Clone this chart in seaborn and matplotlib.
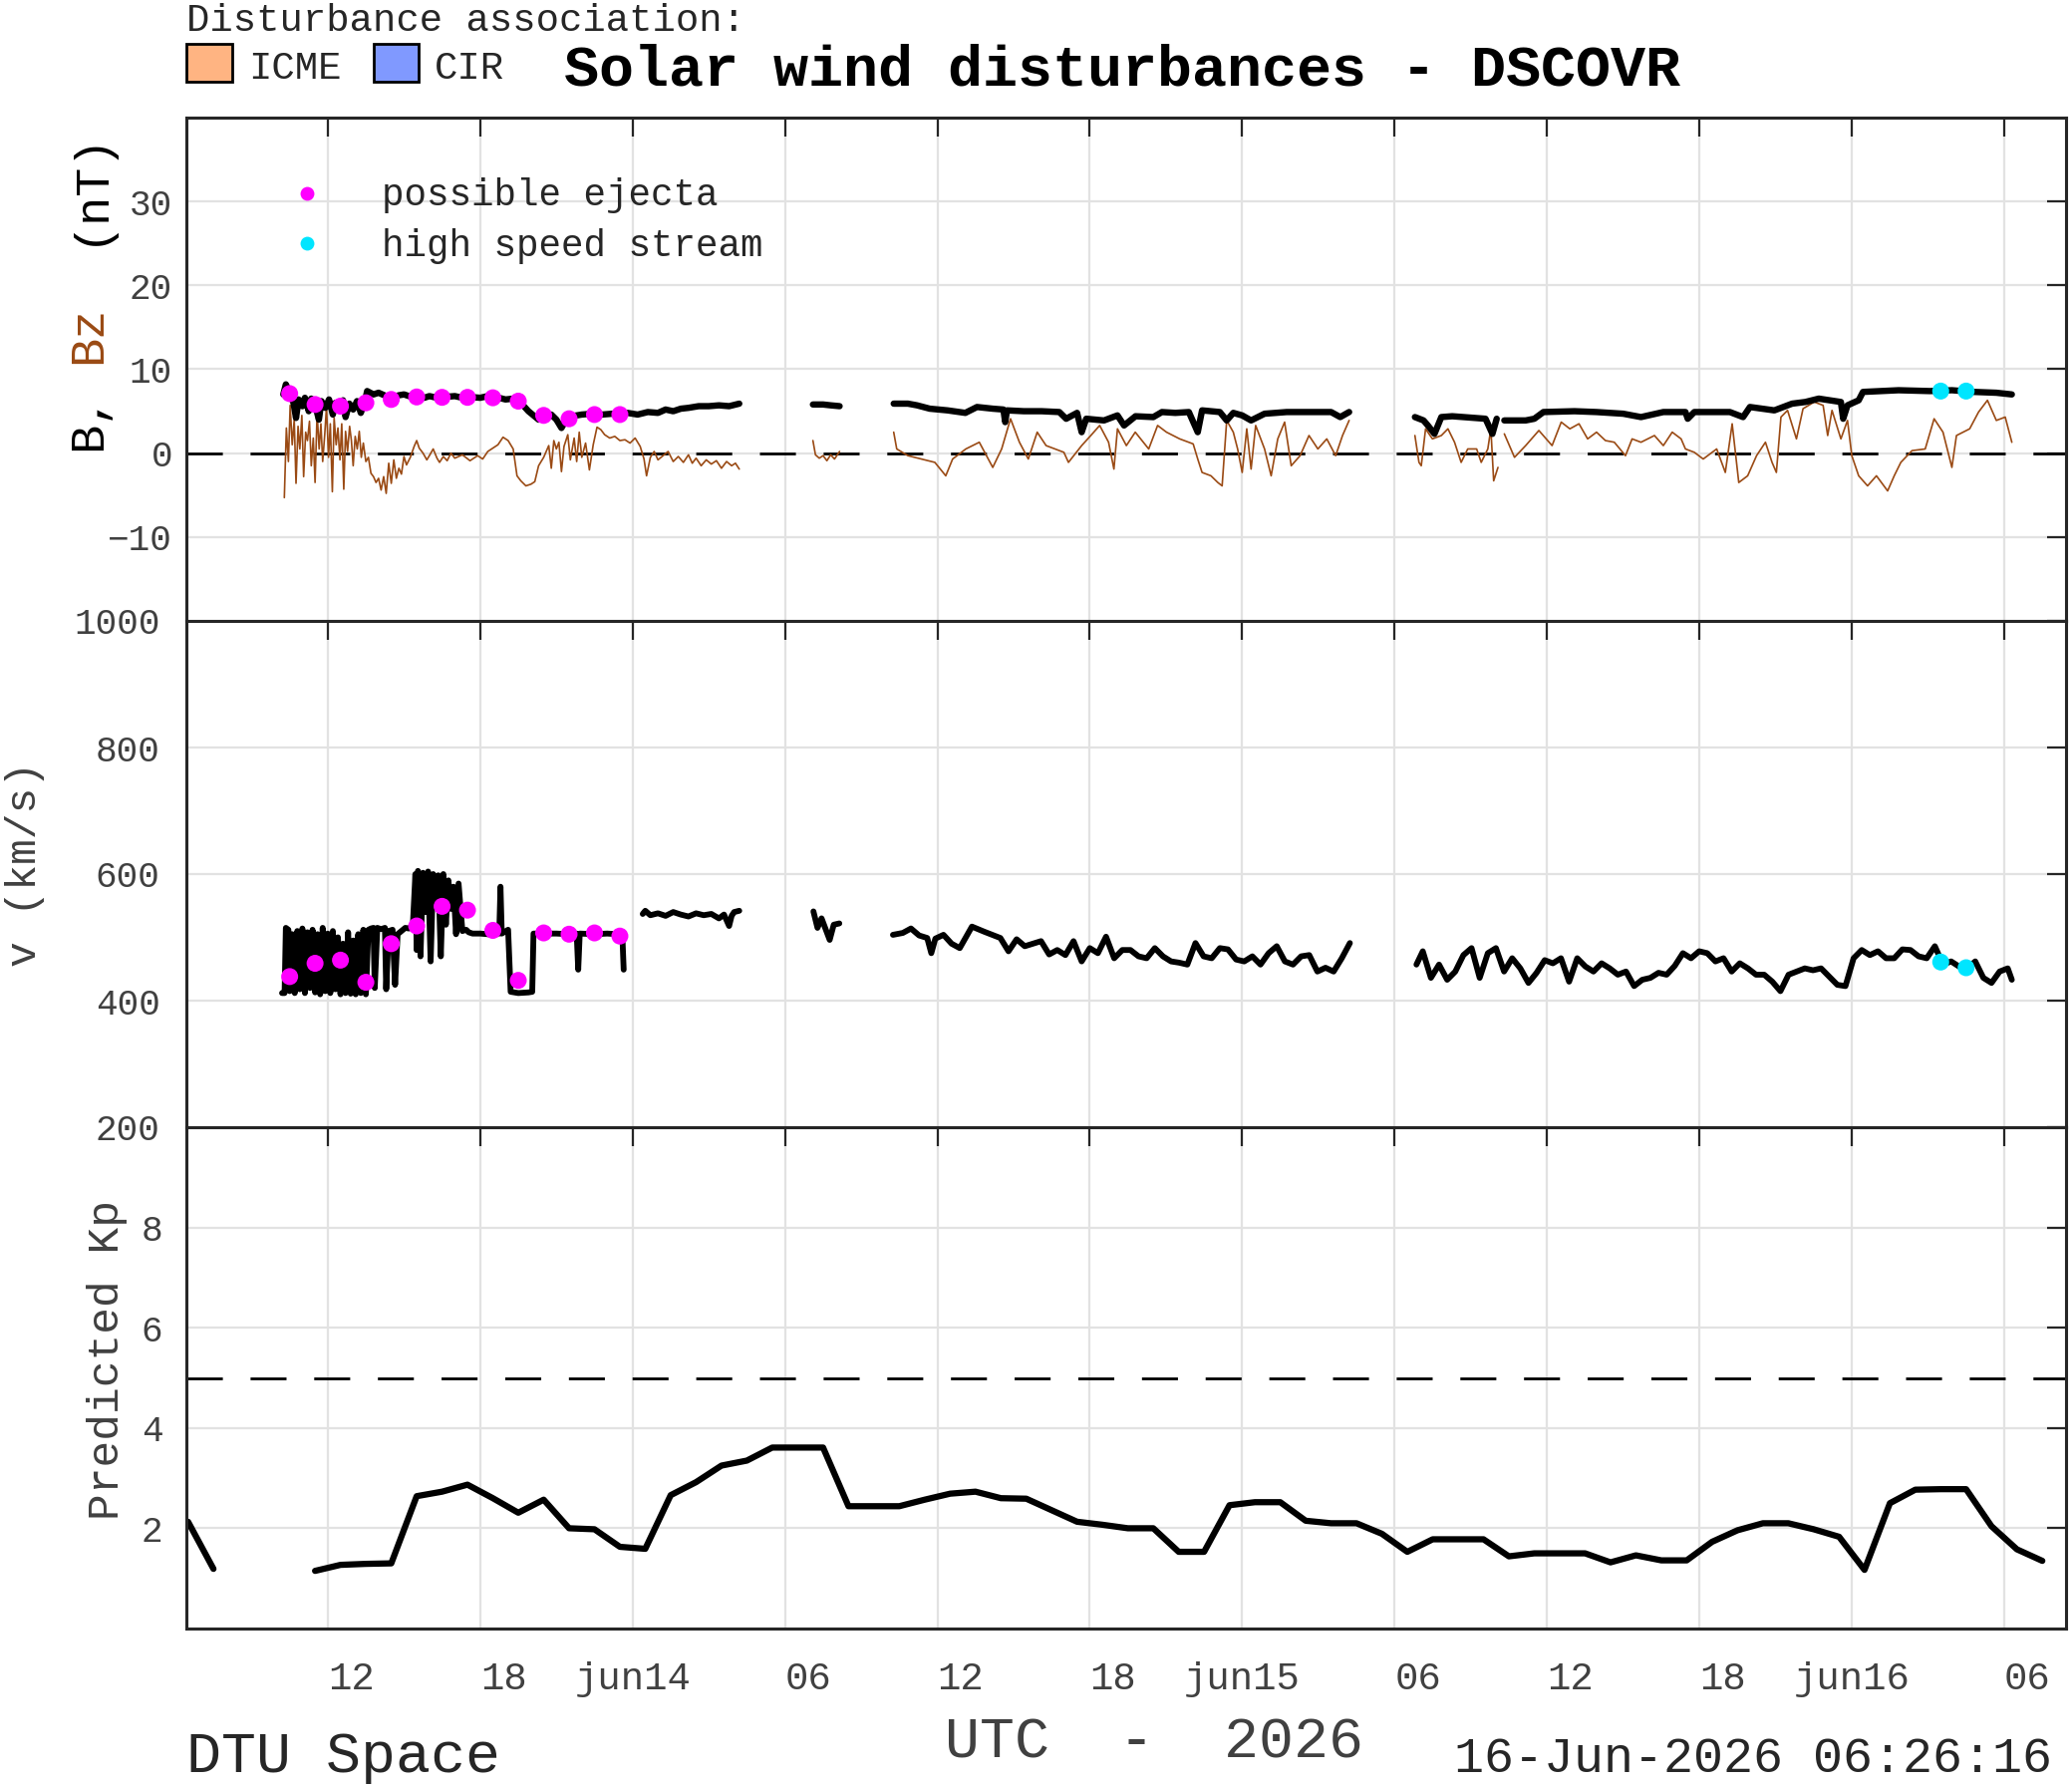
import numpy as np
import pandas as pd
import matplotlib
matplotlib.use("Agg")
import matplotlib.pyplot as plt
import seaborn as sns
from matplotlib.patches import Rectangle

# ---------------- data (time in hours since 13-Jun-2026 00:00 UTC) ----------------
NaN = np.nan

b_time = [10.25, 10.35, 10.5, 10.65, 10.75, 10.85, 11.0, 11.1, 11.25, 11.35, 11.5, 11.65, 11.75, 11.9,
          12.05, 12.2, 12.3, 12.45, 12.6, 12.7, 12.85, 13.0, 13.15, 13.3, 13.45, 13.55, 13.8, 14.0, 14.3,
          14.5, 14.8, 15.0, 15.3, 15.5, 15.8, 16.0, 16.3, 16.6, 17.0, 17.3, 17.6, 18.0, 18.3, 18.6, 19.0,
          19.3, 19.6, 19.9, 20.1, 20.3, 20.5, 20.8, 21.0, 21.2, 21.35, 21.6, 22.0, 22.4, 22.8, 23.2, 23.5,
          23.8, 24.2, 24.6, 25.0, 25.3, 25.6, 25.9, 26.2, 26.6, 27.0, 27.4, 27.8, 28.2,
          29.0,
          31.1, 31.5, 31.8, 32.15,
          33.0,
          34.28, 34.84, 35.2, 35.7, 36.4, 37.1, 37.56, 38.18, 38.6, 38.67, 38.74, 39.4, 40.1, 40.8, 41.07,
          41.5, 41.68, 41.86, 42.56, 43.09, 43.35, 43.8, 44.5, 44.84, 45.37, 45.9, 46.25, 46.42, 47.12,
          47.39, 47.65, 48.0, 48.35, 48.88, 49.75, 50.63, 51.5, 51.86, 52.21,
          53.0,
          54.8, 55.14, 55.31, 55.57, 55.84, 56.27, 56.71, 57.15, 57.58, 57.85, 58.02,
          58.15,
          58.32, 59.16, 59.5, 59.86, 61.08, 61.95, 63.0, 63.7, 64.58, 65.45, 65.54, 65.8, 67.2, 67.72,
          67.99, 68.95, 69.65, 70.17, 70.7, 71.57, 71.66, 71.83, 72.27, 72.44, 73.84, 75.07, 75.94, 76.81,
          77.69, 78.3]
b_val = [7.0, 8.2, 7.2, 6.0, 4.2, 6.4, 5.6, 6.6, 5.0, 6.5, 5.8, 4.0, 6.2, 5.4,
         6.4, 4.6, 6.0, 5.5, 6.3, 4.3, 5.9, 5.2, 6.2, 4.8, 6.0, 7.4, 7.0, 7.2, 6.8,
         6.6, 6.9, 7.0, 6.7, 6.8, 6.6, 6.8, 6.6, 6.7, 6.8, 6.6, 6.7, 6.6, 6.8, 6.7, 6.4,
         6.5, 6.0, 5.0, 4.5, 4.0, 4.3, 4.6, 4.0, 3.0, 3.8, 4.4, 4.6, 4.7, 4.6, 4.7, 4.5,
         4.8, 4.6, 4.9, 4.8, 5.2, 5.0, 5.3, 5.4, 5.6, 5.6, 5.7, 5.6, 5.9,
         NaN,
         5.8, 5.8, 5.7, 5.6,
         NaN,
         5.9, 5.9, 5.7, 5.3, 5.1, 4.8, 5.5, 5.3, 5.2, 3.7, 5.1, 5.0, 5.0, 4.9, 4.1,
         4.8, 2.5, 4.1, 3.9, 4.5, 3.3, 4.4, 4.3, 4.9, 4.8, 4.9, 2.5, 5.1, 4.9,
         3.9, 4.8, 4.5, 3.9, 4.7, 4.9, 4.9, 4.9, 4.3, 4.9,
         NaN,
         4.3, 3.9, 3.3, 2.3, 4.3, 4.4, 4.3, 4.2, 4.1, 2.3, 4.1,
         NaN,
         3.9, 3.9, 4.1, 4.9, 5.0, 4.9, 4.7, 4.3, 4.9, 4.9, 4.1, 4.9, 4.9, 4.3,
         5.5, 5.1, 5.9, 6.1, 6.5, 6.1, 4.1, 5.7, 6.3, 7.3, 7.5, 7.4, 7.5, 7.3,
         7.2, 7.0]

bz_time = [10.29, 10.37, 10.45, 10.52, 10.6, 10.68, 10.75, 10.83, 10.9, 10.98, 11.05, 11.13, 11.2, 11.28,
           11.35, 11.43, 11.5, 11.58, 11.66, 11.73, 11.8, 11.88, 11.95, 12.03, 12.1, 12.18, 12.25, 12.33,
           12.4, 12.48, 12.55, 12.63, 12.7, 12.78, 12.86, 12.93, 13.0, 13.08, 13.16, 13.24, 13.32, 13.4,
           13.5, 13.6, 13.7, 13.8, 13.9, 14.0, 14.1, 14.2, 14.3, 14.4, 14.5, 14.6, 14.7, 14.8, 14.9, 15.0,
           15.1, 15.25, 15.4, 15.5, 15.6, 15.75, 15.9, 16.0, 16.15, 16.3, 16.4, 16.55, 16.7, 16.85, 17.0,
           17.3, 17.6, 17.9, 18.1, 18.3, 18.5, 18.7, 18.9, 19.1, 19.3, 19.45, 19.6, 19.8, 20.0, 20.15,
           20.3, 20.5, 20.7, 20.8, 20.9, 21.0, 21.1, 21.2, 21.3, 21.45, 21.55, 21.7, 21.8, 21.9, 22.0,
           22.15, 22.3, 22.45, 22.6, 22.75, 22.9, 23.1, 23.3, 23.5, 23.7, 23.9, 24.1, 24.3, 24.45, 24.55,
           24.7, 24.85, 25.0, 25.2, 25.4, 25.6, 25.8, 26.0, 26.2, 26.35, 26.5, 26.7, 26.9, 27.1, 27.3,
           27.5, 27.7, 27.9, 28.05, 28.2,
           29.0,
           31.1, 31.2, 31.35, 31.5, 31.65, 31.8, 31.95, 32.15,
           33.0,
           34.28, 34.4, 34.84, 35.37, 35.9, 36.33, 36.6, 37.12, 37.65, 38.18, 38.53, 38.88, 39.23, 39.58,
           39.93, 40.28, 40.98, 41.16, 41.68, 42.04, 42.39, 42.74, 42.95, 43.09, 43.44, 43.79, 44.32,
           44.67, 45.02, 45.54, 46.07, 46.25, 46.42, 46.77, 47.04, 47.21, 47.39, 47.65, 47.82, 48.0,
           48.18, 48.35, 48.53, 48.88, 49.14, 49.4, 49.67, 49.93, 50.28, 50.63, 50.98, 51.33, 51.68,
           51.95, 52.21,
           53.0,
           54.8, 54.96, 55.05, 55.22, 55.49, 55.84, 56.1, 56.36, 56.62, 56.88, 57.23, 57.41, 57.67,
           57.79, 57.9, 58.07,
           58.2,
           58.32, 58.72, 59.16, 59.68, 60.2, 60.56, 60.9, 61.26, 61.6, 61.95, 62.3, 62.65, 63.09, 63.35,
           63.7, 64.23, 64.58, 64.93, 65.28, 65.45, 65.8, 66.15, 66.68, 67.02, 67.29, 67.55, 67.9, 68.25,
           68.6, 68.86, 69.03, 69.21, 69.47, 69.82, 70.08, 70.52, 70.87, 71.05, 71.22, 71.57, 71.83,
           72.0, 72.27, 72.62, 72.97, 73.41, 73.67, 73.93, 74.37, 74.89, 75.24, 75.59, 75.94, 76.12,
           76.64, 76.99, 77.34, 77.69, 78.04, 78.3]
bz_val = [-5.3, 3.0, -1.0, 5.7, 1.0, 4.0, -3.6, 3.2, 0.5, 4.5, -2.8, 2.5, 1.5, 3.8,
          -1.5, 1.8, -3.5, 4.8, 0.5, 3.5, -1.0, 2.2, 5.5, -0.5, 3.5, -4.6, 4.2, 1.0,
          3.0, -0.8, 3.5, -4.3, 2.6, 0.2, 3.2, 1.5, -1.5, 2.0, 0.5, 2.6, -0.5, 1.2,
          -1.0, -0.5, -2.4, -2.8, -3.5, -3.0, -4.4, -2.8, -4.8, -1.2, -3.6, -0.8, -3.0, -1.8, -2.5, -0.4,
          -1.4, -0.5, 0.8, 1.5, 0.6, 0.0, -0.8, -0.3, 0.5, -0.6, -1.1, -0.4, -0.9, 0.0, -0.6,
          -0.2, -0.9, -0.3, -0.7, 0.2, 0.6, 1.0, 1.9, 1.5, 0.5, -2.7, -3.3, -3.9, -3.7, -3.4,
          -1.5, -0.5, 0.9, -1.8, 1.5, 0.5, 1.3, -2.2, 0.8, 2.2, -0.8, 1.8, -1.0, 2.5, -0.5,
          1.2, -2.0, 1.0, 3.1, 2.8, 2.2, 1.8, 2.0, 1.5, 1.6, 1.2, 1.8, 0.8, -0.7, -2.7,
          -0.5, 0.2, -0.8, -0.3, 0.2, -1.0, -0.4, -1.1, -0.2, -1.2, -0.6, -1.5, -0.8, -1.3, -0.9,
          -1.8, -1.0, -1.5, -1.2, -1.9,
          NaN,
          1.5, -0.2, -0.6, -0.3, -0.9, -0.2, -0.7, 0.2,
          NaN,
          2.5, 0.5, -0.3, -0.7, -1.1, -2.7, -0.7, 0.5, 1.3, -1.7, 0.5, 4.1, 1.3, -0.7,
          2.5, 0.9, 0.1, -1.1, 0.9, 2.1, 3.3, 1.3, -1.9, 2.9, 0.9, 2.5, 0.5,
          3.3, 2.5, 1.7, 1.1, -0.7, -2.3, -2.7, -3.5, -3.9, 3.9, 2.5, 0.5, -2.3,
          2.9, -1.9, 3.3, 0.5, -2.7, 1.7, 3.7, -1.5, -0.3, 2.1, 0.5, 1.7, -0.3,
          2.1, 3.9,
          NaN,
          2.1, -1.1, -1.5, 2.9, 1.7, 2.1, 2.9, 1.3, -1.1, 0.5, 0.5, -1.1, 0.5,
          2.9, -3.3, -1.7,
          NaN,
          2.3, -0.5, 0.9, 2.7, 0.9, 3.7, 2.9, 3.5, 1.7, 2.5, 1.5, 1.3, -0.3, 1.7,
          1.3, 2.1, 0.9, 2.5, 1.7, 0.5, 0.1, -0.7, 0.5, -2.3, 3.5, -3.5, -2.7, -0.3,
          1.3, -1.1, -2.3, 4.3, 5.1, 1.7, 5.3, 6.1, 5.7, 2.1, 5.1, 1.7, 3.9,
          -0.3, -2.7, -3.9, -2.7, -4.5, -2.7, -1.1, 0.3, 0.5, 4.1, 2.5, -1.7, 2.1,
          2.9, 4.9, 6.3, 3.9, 4.3, 1.3]

v_time = [10.2, 10.3, 10.35, 10.45, 10.5, 10.6, 10.7, 10.8, 10.9, 11.0, 11.1, 11.2, 11.3, 11.4, 11.5,
          11.6, 11.7, 11.8, 11.9, 12.0, 12.1, 12.2, 12.3, 12.4, 12.5, 12.6, 12.7, 12.8, 12.9, 13.0,
          13.1, 13.2, 13.3, 13.4, 13.5, 13.6, 13.7, 13.8, 13.85, 13.95, 14.1, 14.25, 14.3, 14.4, 14.55,
          14.65, 14.75, 14.9, 15.05, 15.2, 15.35, 15.45, 15.5, 15.55, 15.65, 15.75, 15.85, 15.95, 16.05,
          16.15, 16.25, 16.35, 16.45, 16.55, 16.65, 16.75, 16.85, 16.95, 17.05, 17.15, 17.3, 17.45,
          17.55, 17.7, 18.0, 18.3, 18.6, 18.75, 18.8, 18.85, 19.1, 19.2, 19.5, 19.9, 20.05, 20.1, 20.5,
          21.0, 21.5, 21.8, 21.86, 21.92, 22.5, 23.0, 23.4, 23.6, 23.65,
          24.0,
          24.4, 24.5, 24.7, 25.0, 25.3, 25.6, 25.9, 26.2, 26.5, 26.8, 27.1, 27.4, 27.6, 27.8, 27.9,
          28.0, 28.2,
          29.0,
          31.12, 31.28, 31.44, 31.76, 31.92, 32.14,
          33.0,
          34.25, 34.64, 34.96, 35.28, 35.6, 35.76, 35.92, 36.24, 36.56, 36.88, 37.36, 37.84, 38.48,
          38.8, 39.12, 39.44, 40.08, 40.4, 40.72, 41.04, 41.36, 41.68, 42.0, 42.32, 42.64, 42.96,
          43.28, 43.6, 43.92, 44.24, 44.56, 44.88, 45.2, 45.52, 45.84, 46.16, 46.48, 46.8, 47.12,
          47.44, 47.76, 48.08, 48.4, 48.72, 49.04, 49.36, 49.68, 50.0, 50.32, 50.64, 50.96, 51.28,
          51.6, 51.92, 52.24,
          53.0,
          54.86, 55.11, 55.43, 55.75, 56.07, 56.39, 56.71, 57.03, 57.35, 57.67, 57.99, 58.31, 58.63,
          58.95, 59.27, 59.59, 59.91, 60.23, 60.55, 60.87, 61.19, 61.51, 61.83, 62.15, 62.47, 62.79,
          63.11, 63.43, 63.75, 64.07, 64.39, 64.71, 65.03, 65.35, 65.67, 65.99, 66.31, 66.63, 66.95,
          67.27, 67.59, 67.91, 68.23, 68.55, 68.87, 69.19, 69.51, 69.83, 70.15, 70.47, 70.79, 71.11,
          71.43, 71.75, 72.07, 72.39, 72.71, 73.03, 73.35, 73.67, 73.99, 74.31, 74.63, 74.95, 75.27,
          75.59, 75.91, 76.22, 76.54, 76.86, 77.18, 77.5, 77.82, 78.14, 78.3]
v_val = [412, 412, 515, 512, 415, 505, 412, 510, 418, 514, 412, 508, 420, 512, 413,
         505, 410, 515, 415, 506, 412, 510, 418, 500, 410, 490, 412, 508, 411, 495,
         410, 505, 412, 512, 410, 512, 514, 515, 420, 515, 513, 515, 418, 510, 512,
         425, 505, 510, 515, 514, 520, 600, 480, 605, 470, 602, 540, 604, 462,
         600, 560, 598, 470, 600, 520, 590, 545, 580, 505, 585, 510, 512,
         508, 506, 506, 505, 506, 506, 580, 506, 512, 414, 412, 413, 414, 506, 506,
         506, 505, 506, 449, 506, 505, 506, 505, 500, 449,
         NaN,
         537, 542, 535, 538, 534, 540, 536, 533, 538, 535, 537, 530, 536, 518, 534,
         540, 542,
         NaN,
         541, 515, 530, 496, 520, 522,
         NaN,
         504, 507, 514, 503, 499, 475, 498, 504, 490, 483, 517, 509, 499,
         478, 497, 486, 494, 473, 480, 472, 494, 462, 483, 475, 501, 467,
         480, 480, 470, 467, 483, 470, 462, 460, 457, 491, 470, 467, 483,
         481, 465, 462, 470, 457, 475, 486, 462, 457, 470, 472, 446, 452,
         446, 467, 491,
         NaN,
         457, 478, 436, 457, 433, 446, 472, 483, 436, 475, 483, 446, 467,
         451, 428, 444, 464, 459, 467, 430, 467, 454, 446, 459, 451, 441,
         446, 423, 433, 436, 444, 441, 455, 475, 467, 478, 475, 462, 467,
         446, 459, 451, 441, 441, 430, 415, 441, 446, 451, 448, 451, 438,
         425, 423, 467, 480, 472, 478, 467, 467, 481, 480, 470, 467, 486,
         457, 462, 454, 451, 462, 436, 428, 446, 451, 433]

kp_time = [6.5, 7.5, 8.5, 11.5, 12.5, 13.5, 14.5, 15.5, 16.5, 17.5, 18.5, 19.5, 20.5, 21.5, 22.5,
           23.5, 24.5, 25.5, 26.5, 27.5, 28.5, 29.5, 30.5, 31.5, 32.5, 33.5, 34.5, 35.5, 36.5, 37.5,
           38.5, 39.5, 40.5, 41.5, 42.5, 43.5, 44.5, 45.5, 46.5, 47.5, 48.5, 49.5, 50.5, 51.5, 52.5,
           53.5, 54.5, 55.5, 56.5, 57.5, 58.5, 59.5, 60.5, 61.5, 62.5, 63.5, 64.5, 65.5, 66.5, 67.5,
           68.5, 69.5, 70.5, 71.5, 72.5, 73.5, 74.5, 75.5, 76.5, 77.5, 78.5, 79.5]
kp_val = [2.13, 1.19, NaN, 1.15, 1.27, 1.29, 1.30, 2.64, 2.73, 2.87, 2.60, 2.31, 2.57, 2.00, 1.98,
          1.63, 1.59, 2.66, 2.92, 3.25, 3.35, 3.61, 3.61, 3.61, 2.44, 2.44, 2.44, 2.57, 2.69, 2.73,
          2.60, 2.59, 2.36, 2.13, 2.07, 2.00, 2.00, 1.53, 1.53, 2.46, 2.52, 2.52, 2.15, 2.10, 2.10,
          1.89, 1.53, 1.78, 1.78, 1.78, 1.44, 1.50, 1.50, 1.50, 1.32, 1.46, 1.36, 1.36, 1.73, 1.96,
          2.10, 2.10, 1.98, 1.83, 1.17, 2.50, 2.77, 2.78, 2.78, 2.04, 1.58, 1.35]

ejecta_time = [10.5, 11.5, 12.5, 13.5, 14.5, 15.5, 16.5, 17.5, 18.5, 19.5, 20.5, 21.5, 22.5, 23.5]
ejecta_b = [7.1, 5.8, 5.6, 6.0, 6.4, 6.7, 6.65, 6.65, 6.6, 6.2, 4.5, 4.1, 4.6, 4.6]
ejecta_v = [438, 459, 464, 429, 490, 518, 549, 543, 511, 432, 507, 505, 507, 502]

hss_time = [75.5, 76.5]
hss_b = [7.4, 7.4]
hss_v = [461, 452]

tick_hours = [12, 18, 24, 30, 36, 42, 48, 54, 60, 66, 72, 78]
tick_labels = ["12", "18", "jun14", "06", "12", "18", "jun15", "06", "12", "18", "jun16", "06"]
x_range = (6.4333, 80.4333)

# ---------------- styling ----------------
sns.set_style("white")
plt.rcParams["font.family"] = ["Liberation Mono", "DejaVu Sans"]
plt.rcParams["axes.unicode_minus"] = True

BROWN = "#9a4a14"
DARK = "#262626"
GRAY = "#404040"
MAGENTA = "#ff00ff"
CYAN = "#00e5ff"
DASH = (0, (13, 10))

W, H = 2079, 1792
fig = plt.figure(figsize=(W / 100, H / 100), dpi=100)


def fx(px):
    return px / W


def fy(py):
    return 1 - py / H


L, R = 187, 2073
panels = [(118, 623), (623, 1131), (1131, 1634)]
axes = [fig.add_axes([fx(L), fy(b), (R - L) / W, (b - t) / H]) for t, b in panels]


def seg_frame(times, vals, name):
    df = pd.DataFrame({"t": times, name: vals})
    df["seg"] = df[name].isna().cumsum()
    return df.dropna()


for ax in axes:
    ax.set_xlim(*x_range)
    ax.set_xticks(tick_hours)
    ax.grid(True, color="#e2e2e2", lw=1.6)
    ax.set_axisbelow(True)
    for s in ax.spines.values():
        s.set_color(DARK)
        s.set_linewidth(2.2)
    ax.tick_params(direction="in", length=14, width=1.6, color=DARK, top=True, right=True,
                   labelcolor=GRAY, labelsize=26)

ax1, ax2, ax3 = axes

# ---- panel 1: B and Bz ----
ax1.set_ylim(-20, 40)
ax1.set_yticks([-10, 0, 10, 20, 30])
ax1.axhline(0, color="k", lw=2, ls=DASH, zorder=1.5)
sns.lineplot(data=seg_frame(bz_time, bz_val, "bz"), x="t", y="bz", units="seg", estimator=None,
             sort=False, color=BROWN, lw=1.2, ax=ax1, legend=False)
sns.lineplot(data=seg_frame(b_time, b_val, "b"), x="t", y="b", units="seg", estimator=None,
             sort=False, color="k", lw=4.6, ax=ax1, legend=False)
sns.scatterplot(x=ejecta_time, y=ejecta_b, color=MAGENTA, s=150, edgecolor="none", ax=ax1, zorder=5)
sns.scatterplot(x=hss_time, y=hss_b, color=CYAN, s=150, edgecolor="none", ax=ax1, zorder=5)
ax1.tick_params(axis="y", pad=10)
ax1.tick_params(axis="x", labelbottom=False)

# legend inside panel 1
ax1.plot([0.064], [0.850], "o", color=MAGENTA, ms=10, mec="none", transform=ax1.transAxes)
ax1.plot([0.064], [0.7505], "o", color=CYAN, ms=10, mec="none", transform=ax1.transAxes)
ax1.text(0.104, 0.8455, "possible ejecta", transform=ax1.transAxes, fontsize=27, color=DARK,
         va="center", ha="left")
ax1.text(0.104, 0.745, "high speed stream", transform=ax1.transAxes, fontsize=27, color=DARK,
         va="center", ha="left")

# ---- panel 2: speed ----
ax2.set_ylim(200, 1000)
ax2.set_yticks([200, 400, 600, 800, 1000])
sns.lineplot(data=seg_frame(v_time, v_val, "v"), x="t", y="v", units="seg", estimator=None,
             sort=False, color="k", lw=4.2, ax=ax2, legend=False)
sns.scatterplot(x=ejecta_time, y=ejecta_v, color=MAGENTA, s=150, edgecolor="none", ax=ax2, zorder=5)
sns.scatterplot(x=hss_time, y=hss_v, color=CYAN, s=150, edgecolor="none", ax=ax2, zorder=5)
ax2.tick_params(axis="y", pad=19)
ax2.tick_params(axis="x", labelbottom=False)

# ---- panel 3: Kp ----
ax3.set_ylim(0, 10)
ax3.set_yticks([2, 4, 6, 8])
ax3.axhline(5, color="k", lw=2, ls=DASH, zorder=1.5)
sns.lineplot(data=seg_frame(kp_time, kp_val, "kp"), x="t", y="kp", units="seg", estimator=None,
             sort=False, color="k", lw=4.5, ax=ax3, legend=False)
ax3.tick_params(axis="y", pad=17)
ax3.tick_params(axis="x", pad=24, labelsize=28)
ax3.set_xticklabels(tick_labels)
for lab in ax3.get_xticklabels():
    if lab.get_text().startswith("jun"):
        lab.set_ha("center")
    else:
        lab.set_ha("left")

for ax in axes:
    ax.set_xlabel("")
    ax.set_ylabel("")

# ---- y labels ----
fig.text(fx(89), fy(423), "B,", rotation=90, fontsize=35, color="k", ha="center", va="center")
fig.text(fx(89), fy(335.5), "Bz", rotation=90, fontsize=35, color=BROWN, ha="center", va="center")
fig.text(fx(89), fy(188), "(nT)", rotation=90, fontsize=35, color="k", ha="center", va="center")
fig.text(fx(25), fy(867), "v (km/s)", rotation=90, fontsize=31, color=GRAY, ha="center", va="center")
fig.text(fx(108), fy(1364), "Predicted Kp", rotation=90, fontsize=32, color=GRAY, ha="center",
         va="center")

# ---- header ----
fig.text(fx(187), fy(21), "Disturbance association:", fontsize=28, color=DARK, ha="left", va="center")
fig.add_artist(Rectangle((fx(187), fy(82)), (233 - 187) / W, 38 / H, transform=fig.transFigure,
                         facecolor="#ffb482", edgecolor="k", lw=2))
fig.text(fx(249), fy(69), "ICME", fontsize=28, color=DARK, ha="left", va="center")
fig.add_artist(Rectangle((fx(375), fy(82)), (420 - 375) / W, 38 / H, transform=fig.transFigure,
                         facecolor="#8099ff", edgecolor="k", lw=2))
fig.text(fx(436), fy(69), "CIR", fontsize=28, color=DARK, ha="left", va="center")
fig.text(fx(1126), fy(70), "Solar wind disturbances - DSCOVR", fontsize=42, fontweight="bold",
         color="k", ha="center", va="center")

# ---- footer ----
fig.text(fx(187), fy(1763), "DTU Space", fontsize=42, color=DARK, ha="left", va="center")
fig.text(fx(1158), fy(1748), "UTC  -  2026", fontsize=42, color=GRAY, ha="center", va="center")
fig.text(fx(2059), fy(1765), "16-Jun-2026 06:26:16", fontsize=36, color=DARK, ha="right",
         va="center")

fig.savefig("out.png", dpi=100)
